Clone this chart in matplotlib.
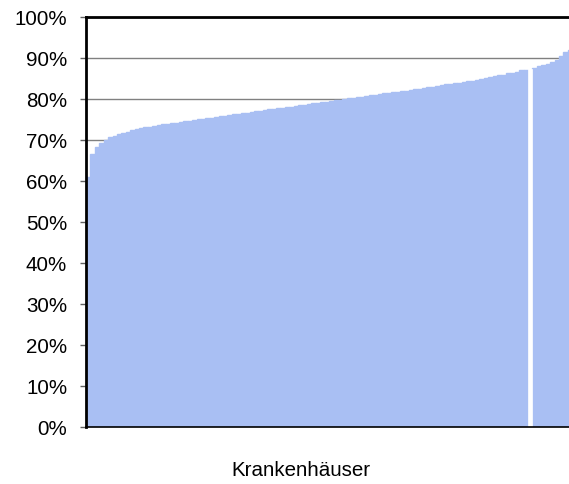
import matplotlib
matplotlib.use("Agg")
import matplotlib.pyplot as plt

plt.rcParams['font.family'] = ['Liberation Sans', 'DejaVu Sans']

# Anteil je Krankenhaus (sortiert), in Prozent
werte = [61.0, 66.5, 68.2, 69.2, 70.0, 70.6, 71.0, 71.3, 71.6, 72.0,
         72.3, 72.6, 72.8, 73.0, 73.2, 73.4, 73.6, 73.8, 73.9, 74.1,
         74.2, 74.4, 74.5, 74.7, 74.8, 75.0, 75.1, 75.3, 75.4, 75.6,
         75.7, 75.9, 76.0, 76.2, 76.3, 76.5, 76.6, 76.8, 76.9, 77.1,
         77.2, 77.4, 77.5, 77.7, 77.8, 78.0, 78.1, 78.3, 78.4, 78.6,
         78.7, 78.9, 79.0, 79.2, 79.3, 79.5, 79.6, 79.8, 79.9, 80.1,
         80.2, 80.4, 80.5, 80.7, 80.8, 81.0, 81.1, 81.3, 81.4, 81.6,
         81.7, 81.9, 82.0, 82.2, 82.3, 82.5, 82.6, 82.8, 82.9, 83.1,
         83.3, 83.5, 83.6, 83.8, 83.9, 84.1, 84.3, 84.4, 84.6, 84.8,
         85.0, 85.2, 85.5, 85.7, 85.9, 86.2, 86.4, 86.6, 86.9, 87.1,
         87.3, 87.6, 87.9, 88.2, 88.5, 88.9, 89.5, 90.3, 91.3, 92.0]
markiert = 100  # hervorgehobenes Haus (weiss)
y_ticks = [0, 10, 20, 30, 40, 50, 60, 70, 80, 90, 100]
y_labels = ["0%", "10%", "20%", "30%", "40%", "50%", "60%", "70%", "80%", "90%", "100%"]

blau = "#A9BFF3"

fig = plt.figure(figsize=(5.69, 4.85), dpi=100)
ax = fig.add_axes([86 / 569, 57 / 485, 486.2 / 569, 410.3 / 485])

x = list(range(len(werte)))
normal = [i for i in x if i != markiert]
ax.bar(normal, [werte[i] for i in normal], width=1.0, color=blau,
       edgecolor=blau, linewidth=1.0, zorder=2)
# das hervorgehobene Haus liegt weiss ueber den Nachbarn
ax.bar([markiert], [werte[markiert]], width=1.0, color="white",
       edgecolor="white", linewidth=0.5, zorder=2.2)

ax.set_xlim(-0.5, len(werte) - 0.5)
ax.set_ylim(0, 100)
ax.set_yticks(y_ticks)
ax.set_yticklabels(y_labels, fontsize=14.8)
ax.set_xticks([])

ax.yaxis.grid(True, color="#808080", linewidth=1.0)
ax.set_axisbelow(True)

ax.spines['right'].set_visible(False)
ax.spines['top'].set_linewidth(2.0)
ax.spines['left'].set_linewidth(2.0)
ax.spines['bottom'].set_linewidth(1.2)
for s in ax.spines.values():
    s.set_color("black")
ax.tick_params(axis='y', length=4, width=1, color="#606060", pad=9.5)

fig.text(301 / 569, 1 - 471 / 485, "Krankenhäuser", ha="center", va="center", fontsize=14.8)

fig.savefig("out.png", dpi=100)
